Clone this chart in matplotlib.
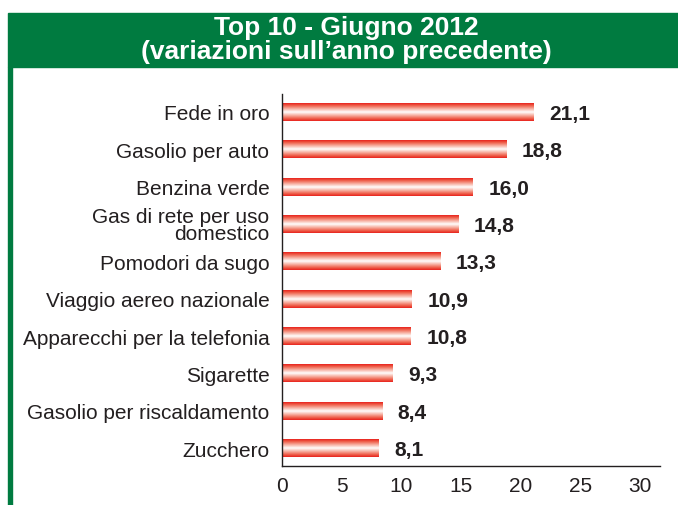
import matplotlib.pyplot as plt
from matplotlib.patches import Rectangle
import numpy as np

plt.rcParams['font.family'] = ['Liberation Sans', 'DejaVu Sans']

categories = ["Fede in oro", "Gasolio per auto", "Benzina verde",
              "Gas di rete per uso\ndomestico", "Pomodori da sugo",
              "Viaggio aereo nazionale", "Apparecchi per la telefonia",
              "Sigarette", "Gasolio per riscaldamento", "Zucchero"]
values = [21.1, 18.8, 16.0, 14.8, 13.3, 10.9, 10.8, 9.3, 8.4, 8.1]
xticks = [0, 5, 10, 15, 20, 25, 30]

green = "#007b40"
red = "#e8231e"
ink = "#231f20"

fig = plt.figure(figsize=(6.78, 5.06), dpi=100)

# green header band and left rule
fig.patches.append(Rectangle((8 / 678, 1 - 68 / 506), 1, 54 / 506,
                             transform=fig.transFigure, color=green, zorder=0))
fig.patches.append(Rectangle((8 / 678, 0), 3.5 / 678, 1 - 68 / 506,
                             transform=fig.transFigure, color=green, zorder=0))
fig.text(0.511, 1 - 28 / 506, "Top 10 - Giugno 2012", color="white",
         fontsize=19, fontweight="bold", ha="center", va="center")
fig.text(0.511, 1 - 52 / 506, "(variazioni sull\u2019anno precedente)", color="white",
         fontsize=19, fontweight="bold", ha="center", va="center")

ax = fig.add_axes([282 / 678, 39 / 506, 378 / 678, 372 / 506])

# red-white-red gradient for each bar
cmap = plt.matplotlib.colors.LinearSegmentedColormap.from_list(
    "rw", [(0, red), (0.12, "#ee5a45"), (0.32, "#f7b2a4"), (0.5, "#ffffff"),
           (0.68, "#f7b2a4"), (0.88, "#ee5a45"), (1, red)])
grad = np.linspace(0, 1, 64).reshape(-1, 1)
n = len(values)
h = 0.48
for i, v in enumerate(values):
    y = n - 1 - i
    ax.imshow(grad, cmap=cmap, aspect="auto", extent=(0, v, y - h / 2, y + h / 2),
              interpolation="bilinear", zorder=2)
    ax.text(v + 1.3, y - 0.04, f"{v:.1f}".replace(".", ","), va="center", ha="left",
            fontsize=15, fontweight="bold", color=ink)

ax.set_xlim(0, 31.7)
ax.set_ylim(-0.48, n - 0.52)
ax.set_yticks(range(n))
ax.set_yticklabels(categories[::-1], fontsize=15, color=ink, linespacing=0.85)
ax.set_xticks(xticks)
ax.set_xticklabels([str(t) for t in xticks], fontsize=15, color=ink)
ax.tick_params(length=0, pad=9)
ax.tick_params(axis="x", pad=7)
ax.spines["top"].set_visible(False)
ax.spines["right"].set_visible(False)
for s in ("left", "bottom"):
    ax.spines[s].set_color(ink)
    ax.spines[s].set_linewidth(1)

fig.savefig("out.png", dpi=100)
